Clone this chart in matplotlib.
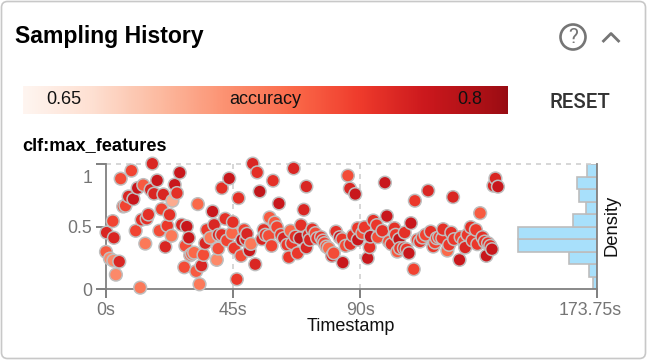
import numpy as np
import matplotlib
matplotlib.use("Agg")
import matplotlib.pyplot as plt
from matplotlib.colors import LinearSegmentedColormap, Normalize
from matplotlib.patches import FancyBboxPatch, Circle
from matplotlib.transforms import ScaledTranslation

plt.rcParams['font.family'] = ['Liberation Sans', 'DejaVu Sans']

# trial data
times = [0.2,2.4,2.8,0.0,1.4,2.6,4.7,3.5,12.1,5.2,9.0,6.1,6.9,8.0,9.7,11.2,13.2,16.4,15.8,17.0,18.1,
         20.3,24.3,26.1,25.1,23.5,32.5,19.7,22.5,15.0,14.4,12.6,10.5,13.9,18.9,21.7,23.2,21.0,26.8,28.6,29.3,28.1,
         29.8,30.4,31.2,34.5,27.7,31.9,33.8,33.1,39.2,39.7,36.9,35.1,35.7,37.7,38.3,42.2,41.0,43.6,46.9,44.9,44.6,
         42.8,39.8,41.0,45.4,47.8,46.3,52.8,50.8,48.9,49.9,48.1,49.6,51.3,51.9,53.5,54.4,59.1,66.4,61.2,70.0,70.9,
         57.9,59.7,60.5,55.8,55.2,56.4,57.6,58.6,61.9,62.9,64.1,65.3,64.7,65.8,67.8,67.0,68.6,69.0,70.9,71.7,
         73.0,74.1,72.1,74.7,76.1,76.8,77.3,78.0,78.8,80.6,80.0,81.4,82.7,83.6,83.8,84.8,86.5,87.4,89.1,89.1,90.7,
         91.5,85.6,86.3,88.2,98.7,109.3,114.0,122.8,137.8,137.1,138.7,132.4,94.6,95.8,99.4,93.3,92.6,93.6,96.2,97.8,
         100.1,101.0,102.1,102.5,103.7,105.7,107.9,103.1,104.0,105.4,106.4,107.2,108.9,110.2,111.1,112.0,113.1,114.9,
         115.8,116.4,117.0,117.9,119.3,119.0,120.8,121.4,122.2,123.2,125.1,125.5,126.7,127.1,127.9,129.1,130.9,129.7,
         131.4,133.2,134.0,134.6,135.2,136.0,136.6]
max_features = [.453,.544,.411,.299,.245,.229,.221,.117,.013,.883,.947,.661,.667,.741,.72,.808,.832,1.003,.795,.763,.869,
                .757,.835,.931,.768,.707,.68,.64,.595,.597,.563,.555,.467,.365,.467,.507,.427,.339,.515,.501,.411,.347,
                .272,.283,.293,.275,.176,.144,.189,.04,.235,.325,.411,.368,.475,.621,.515,.563,.808,.885,.728,.536,.448,
                .389,.435,.435,.328,.267,.08,.2,.309,.475,.443,.395,.4,.363,1.003,.933,.781,.867,.965,.685,.635,.82,
                .573,.533,.496,.475,.4,.435,.427,.347,.435,.408,.355,.467,.256,.368,.288,.421,.408,.512,.333,.435,
                .48,.448,.395,.408,.416,.389,.368,.341,.328,.288,.267,.461,.416,.4,.213,.347,.36,.429,.395,.488,.448,
                .496,.907,.805,.76,.851,.707,.787,.736,.885,.827,.819,.608,.549,.512,.584,.336,.248,.421,.416,.467,
                .381,.36,.488,.435,.4,.453,.528,.301,.328,.328,.32,.288,.16,.395,.381,.413,.435,.461,
                .341,.373,.408,.416,.48,.408,.309,.355,.453,.4,.235,.416,.381,.333,.435,.496,.475,.389,
                .36,.416,.381,.267,.368,.347,.32]
accuracy = [.774,.755,.774,.743,.715,.715,.774,.715,.725,.75,.755,.75,.755,.774,.786,.786,.743,.774,.774,.774,.786,
            .774,.786,.786,.767,.695,.735,.755,.767,.767,.767,.767,.755,.725,.75,.762,.725,.774,.774,.786,.786,.75,
            .743,.743,.735,.75,.75,.743,.774,.725,.715,.75,.725,.774,.762,.786,.774,.767,.767,.786,.767,.767,.735,
            .755,.774,.767,.762,.75,.762,.774,.786,.755,.774,.786,.774,.725,.774,.767,.79,.767,.774,.786,.774,.774,
            .743,.743,.755,.767,.774,.762,.75,.755,.762,.774,.762,.735,.762,.762,.762,.767,.79,.767,.774,.774,
            .767,.75,.774,.762,.762,.762,.755,.743,.735,.75,.774,.767,.786,.762,.786,.75,.767,.767,.786,.762,.75,
            .762,.75,.774,.786,.786,.762,.774,.774,.774,.774,.786,.743,.767,.762,.786,.767,.786,.786,.75,.767,
            .75,.767,.767,.762,.79,.767,.786,.743,.762,.767,.762,.786,.755,.755,.767,.755,.755,.767,
            .762,.755,.755,.755,.767,.762,.735,.762,.767,.762,.786,.755,.755,.774,.762,.767,.762,.762,
            .762,.767,.762,.786,.767,.767,.786]
bin_edges = [0, .1, .2, .3, .4, .5, .6, .7, .8, .9, 1]
density = [.14, .29, 1.0, 2.82, 2.82, .85, .40, .65, .70, .34]
x_ticks = [0, 45, 90, 173.75]
x_labels = ['0s', '45s', '90s', '173.75s']
y_ticks = [0, 0.5, 1]
y_labels = ['0', '0.5', '1']
acc_min, acc_max = 0.635, 0.814

W, H = 647, 360
GRAY = '#757575'
fig = plt.figure(figsize=(W / 100, H / 100), dpi=100)

# card and header, pixel coordinates
bg = fig.add_axes([0, 0, 1, 1])
bg.set_xlim(0, W)
bg.set_ylim(H, 0)
bg.axis('off')
bg.add_patch(FancyBboxPatch((1.5, 1.5), W - 3, H - 3, boxstyle='round,pad=0,rounding_size=6',
                            fc='white', ec='#c8c8c8', lw=1.2))
bg.text(15, 37, 'Sampling History', fontsize=16.6, fontweight='bold', va='center', color='#000000')
bg.text(22, 146, 'clf:max_features', fontsize=13.1, fontweight='bold', va='center', color='#000000')
bg.add_patch(Circle((573, 37), 12.5, fc='none', ec=GRAY, lw=1.9))
bg.text(573, 37.5, '?', fontsize=15, color=GRAY, ha='center', va='center', family='Roboto')
bg.plot([603.5, 611, 618.5], [41, 33.5, 41], color=GRAY, lw=2)
bg.text(580, 102, 'RESET', fontsize=14.8, fontweight='medium', family='Roboto', color='#333333', ha='center', va='center')

# colour bar
cmap = LinearSegmentedColormap.from_list('reds_cut', plt.cm.Reds(np.linspace(0, 0.9, 64)))
norm = Normalize(acc_min, acc_max)
cax = fig.add_axes([23 / W, 1 - 114 / H, 485 / W, 28 / H])
cax.imshow(np.linspace(acc_min, acc_max, 256)[None, :], aspect='auto', cmap=cmap, norm=norm,
           extent=[acc_min, acc_max, 0, 1])
cax.axis('off')
cax.text(0.65, 0.5, '0.65', fontsize=13, ha='center', va='center', color='#111111')
cax.text((acc_min + acc_max) / 2, 0.5, 'accuracy', fontsize=13, ha='center', va='center', color='#111111')
cax.text(0.8, 0.5, '0.8', fontsize=13, ha='center', va='center', color='#111111')

# main plot
ax = fig.add_axes([106 / W, 1 - 289.3 / H, 491 / W, 125.3 / H])
ax.patch.set_alpha(0)
ax.set_xlim(0, 173.75)
ax.set_ylim(0, 1)
ax.set_xticks(x_ticks, x_labels)
ax.set_yticks(y_ticks, y_labels)
ax.tick_params(axis='both', colors=GRAY, labelsize=12.8, width=1.3, length=6.5, pad=3)
ax.tick_params(axis='y', length=7, pad=3)
for side in ax.spines:
    ax.spines[side].set_color('#808080')
    ax.spines[side].set_linewidth(1.3)
ax.spines['top'].set_visible(False)
ax.axhline(1, color='#cfcfcf', lw=1.2, ls=(0, (3, 3)), zorder=1, clip_on=False)
ax.axvline(45, color='#cfcfcf', lw=1.2, ls=(0, (3, 3)), zorder=1)
ax.axvline(90, color='#cfcfcf', lw=1.2, ls=(0, (3, 3)), zorder=1)

# the label of the top tick sits lower than its tick, the last x label is pulled in
top_label = ax.get_yticklabels()[-1]
top_label.set_transform(top_label.get_transform() + ScaledTranslation(0, -12 / 100, fig.dpi_scale_trans))
end_label = ax.get_xticklabels()[-1]
end_label.set_transform(end_label.get_transform() + ScaledTranslation(-7 / 100, 0, fig.dpi_scale_trans))

# density histogram, growing left from the right axis
hist = ax.twiny()
hist.set_xlim(17.53, 0)
hist.axis('off')
hist.barh(bin_edges[:-1], density, height=0.1, align='edge', color='#a8e0fb', edgecolor='#bdbdbd', lw=1.2, zorder=2)

order = np.argsort(times)
ax.set_zorder(hist.get_zorder() + 1)
ax.scatter(np.array(times)[order], np.array(max_features)[order], c=np.array(accuracy)[order], cmap=cmap, norm=norm,
           s=84, edgecolors='#bfbfbf', linewidths=1.1, zorder=3, clip_on=False)

ax.set_xlabel('Timestamp', fontsize=13, color='#111111', labelpad=0)
ax.xaxis.set_label_coords((351 - 106) / 491, -0.23, transform=ax.transAxes)
fig.text(612 / W, 1 - 225 / H, 'Density', fontsize=13.2, rotation=90, ha='center', va='center', color='#111111')

fig.savefig('out.png', dpi=100)
